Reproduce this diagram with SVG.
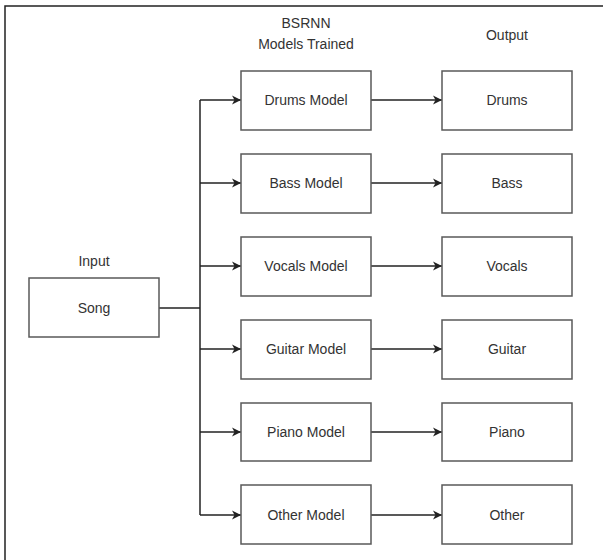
<svg xmlns="http://www.w3.org/2000/svg" width="603" height="560" viewBox="0 0 603 560">
<style>
.box{fill:#fff;stroke:#595959;stroke-width:1.5}
.t{font-family:"Liberation Sans",Arial,sans-serif;font-size:14px;fill:#333;text-anchor:middle;dominant-baseline:central}
.c{fill:none;stroke:#222;stroke-width:1.5}
.frame{fill:none;stroke:#222;stroke-width:1.5}
</style>
<defs>
<marker id="ah" markerWidth="10" markerHeight="10" refX="9" refY="5" orient="auto" markerUnits="userSpaceOnUse">
<path d="M0,0.5 L9,5 L0,9.5 L2.5,5 Z" fill="#222"/>
</marker>
</defs>
<rect width="603" height="560" fill="#fff"/>
<path class="frame" d="M5,560 V6 H603"/>
<g id="labels">
<text class="t" x="306" y="23">BSRNN</text>
<text class="t" x="306" y="44">Models Trained</text>
<text class="t" x="507" y="35">Output</text>
<text class="t" x="94" y="261">Input</text>
</g>
<g id="connectors">
<path class="c" d="M159,308 H200"/>
<path class="c" d="M200,100 V515"/>
<path class="c" d="M200,100 H241" marker-end="url(#ah)"/>
<path class="c" d="M200,183 H241" marker-end="url(#ah)"/>
<path class="c" d="M200,266 H241" marker-end="url(#ah)"/>
<path class="c" d="M200,349 H241" marker-end="url(#ah)"/>
<path class="c" d="M200,432 H241" marker-end="url(#ah)"/>
<path class="c" d="M200,515 H241" marker-end="url(#ah)"/>
<path class="c" d="M371,100 H442" marker-end="url(#ah)"/>
<path class="c" d="M371,183 H442" marker-end="url(#ah)"/>
<path class="c" d="M371,266 H442" marker-end="url(#ah)"/>
<path class="c" d="M371,349 H442" marker-end="url(#ah)"/>
<path class="c" d="M371,432 H442" marker-end="url(#ah)"/>
<path class="c" d="M371,515 H442" marker-end="url(#ah)"/>
</g>
<g id="song"><rect class="box" x="29" y="278" width="130" height="59"/><text class="t" x="94" y="308">Song</text></g>
<g id="drums-model"><rect class="box" x="241" y="71" width="130" height="59"/><text class="t" x="306" y="100">Drums Model</text></g>
<g id="bass-model"><rect class="box" x="241" y="154" width="130" height="59"/><text class="t" x="306" y="183">Bass Model</text></g>
<g id="vocals-model"><rect class="box" x="241" y="237" width="130" height="59"/><text class="t" x="306" y="266">Vocals Model</text></g>
<g id="guitar-model"><rect class="box" x="241" y="320" width="130" height="59"/><text class="t" x="306" y="349">Guitar Model</text></g>
<g id="piano-model"><rect class="box" x="241" y="403" width="130" height="58"/><text class="t" x="306" y="432">Piano Model</text></g>
<g id="other-model"><rect class="box" x="241" y="485" width="130" height="59"/><text class="t" x="306" y="515">Other Model</text></g>
<g id="drums"><rect class="box" x="442" y="71" width="130" height="59"/><text class="t" x="507" y="100">Drums</text></g>
<g id="bass"><rect class="box" x="442" y="154" width="130" height="59"/><text class="t" x="507" y="183">Bass</text></g>
<g id="vocals"><rect class="box" x="442" y="237" width="130" height="59"/><text class="t" x="507" y="266">Vocals</text></g>
<g id="guitar"><rect class="box" x="442" y="320" width="130" height="59"/><text class="t" x="507" y="349">Guitar</text></g>
<g id="piano"><rect class="box" x="442" y="403" width="130" height="58"/><text class="t" x="507" y="432">Piano</text></g>
<g id="other"><rect class="box" x="442" y="485" width="130" height="59"/><text class="t" x="507" y="515">Other</text></g>
</svg>
